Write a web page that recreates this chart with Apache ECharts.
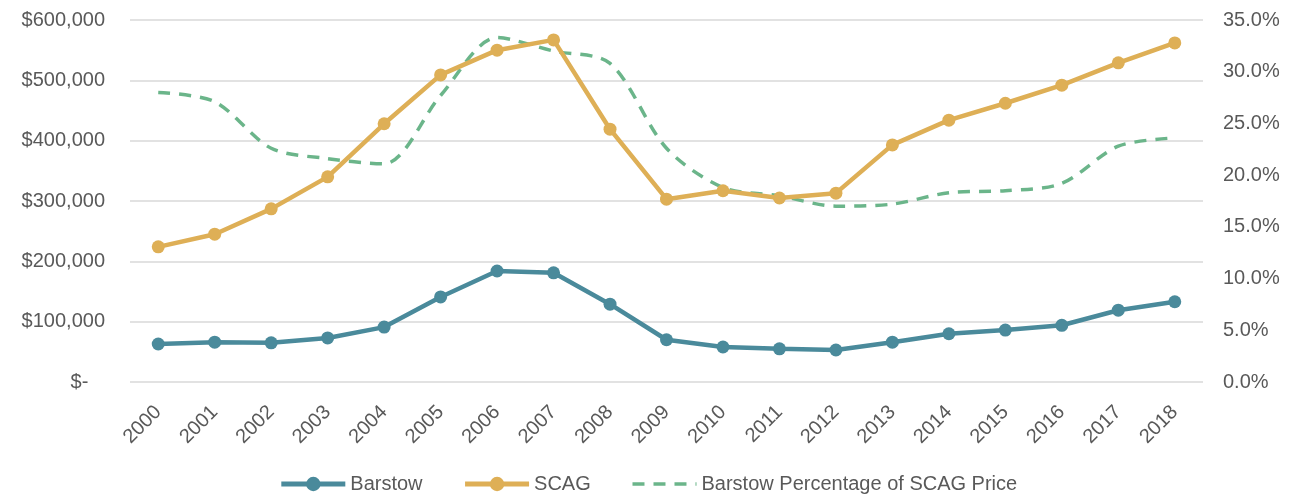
<!DOCTYPE html>
<html>
<head>
<meta charset="utf-8">
<script src="https://cdn.jsdelivr.net/npm/echarts@6/dist/echarts.min.js"></script>
<style>
  html, body { margin: 0; padding: 0; background: #fff; }
  #chart { width: 1296px; height: 497px; }
</style>
</head>
<body>
<div id="chart"></div>
<script>
const years = ['2000', '2001', '2002', '2003', '2004', '2005', '2006', '2007', '2008', '2009',
  '2010', '2011', '2012', '2013', '2014', '2015', '2016', '2017', '2018']
const barstow = [63000, 66000, 65000, 73000, 91000, 141000, 184000, 181000, 129000, 70000,
  58000, 55000, 53000, 66000, 80000, 86000, 94000, 119000, 133000]
const scag = [224000, 245000, 287000, 340000, 428000, 509000, 550000, 567000, 419000, 303000,
  317000, 305000, 313000, 393000, 434000, 462000, 492000, 529000, 562000]
const pct = [28.0, 27.1, 22.6, 21.6, 21.1, 27.7, 33.3, 32.0, 30.8, 22.6,
  18.8, 18.0, 17.0, 17.2, 18.3, 18.5, 19.2, 22.8, 23.6]

const TEAL = '#4a8a9b'
const GOLD = '#deaf56'
const GREEN = '#6bb58a'
const TEXT = '#595959'
const GRID_LINE = '#d9d9d9'
const FONT = 'Liberation Sans'
const DASH = [12, 9]

const chart = echarts.init(document.getElementById('chart'))

const money = (v) => v === 0 ? '$-   ' : '$' + v.toLocaleString('en-US')

chart.setOption({
  animation: false,
  textStyle: { fontFamily: FONT },
  grid: { left: 130, right: 93, top: 20, bottom: 115 },
  legend: {
    top: 474,
    left: 'center',
    padding: 0,
    itemWidth: 64,
    itemHeight: 18,
    itemGap: 40,
    textStyle: { color: TEXT, fontSize: 20, fontFamily: FONT },
    data: [
      { name: 'Barstow', lineStyle: { width: 5 } },
      { name: 'SCAG', lineStyle: { width: 5 } },
      {
        name: 'Barstow Percentage of SCAG Price',
        lineStyle: { width: 3.5, type: DASH },
        itemStyle: { opacity: 0 }
      }
    ]
  },
  xAxis: {
    type: 'category',
    data: years,
    boundaryGap: true,
    axisLine: { show: false },
    axisTick: { show: false },
    axisLabel: { color: TEXT, fontSize: 20, rotate: 45, margin: 27 }
  },
  yAxis: [
    {
      type: 'value',
      min: 0,
      max: 600000,
      interval: 100000,
      axisLine: { show: false },
      axisTick: { show: false },
      splitLine: { lineStyle: { color: GRID_LINE, width: 1.5 } },
      axisLabel: { color: TEXT, fontSize: 20, margin: 25, formatter: money }
    },
    {
      type: 'value',
      min: 0,
      max: 35,
      interval: 5,
      axisLine: { show: false },
      axisTick: { show: false },
      splitLine: { show: false },
      axisLabel: { color: TEXT, fontSize: 20, margin: 20, formatter: (v) => v.toFixed(1) + '%' }
    }
  ],
  series: [
    {
      name: 'Barstow',
      type: 'line',
      data: barstow,
      yAxisIndex: 0,
      symbol: 'circle',
      symbolSize: 13,
      lineStyle: { color: TEAL, width: 4.5 },
      itemStyle: { color: TEAL },
      z: 3
    },
    {
      name: 'SCAG',
      type: 'line',
      data: scag,
      yAxisIndex: 0,
      symbol: 'circle',
      symbolSize: 13,
      lineStyle: { color: GOLD, width: 4.5 },
      itemStyle: { color: GOLD },
      z: 3
    },
    {
      name: 'Barstow Percentage of SCAG Price',
      type: 'line',
      data: pct,
      yAxisIndex: 1,
      smooth: 0.3,
      symbol: 'none',
      lineStyle: { color: GREEN, width: 3.5, type: DASH },
      itemStyle: { color: GREEN },
      z: 2
    }
  ]
})
</script>
</body>
</html>
